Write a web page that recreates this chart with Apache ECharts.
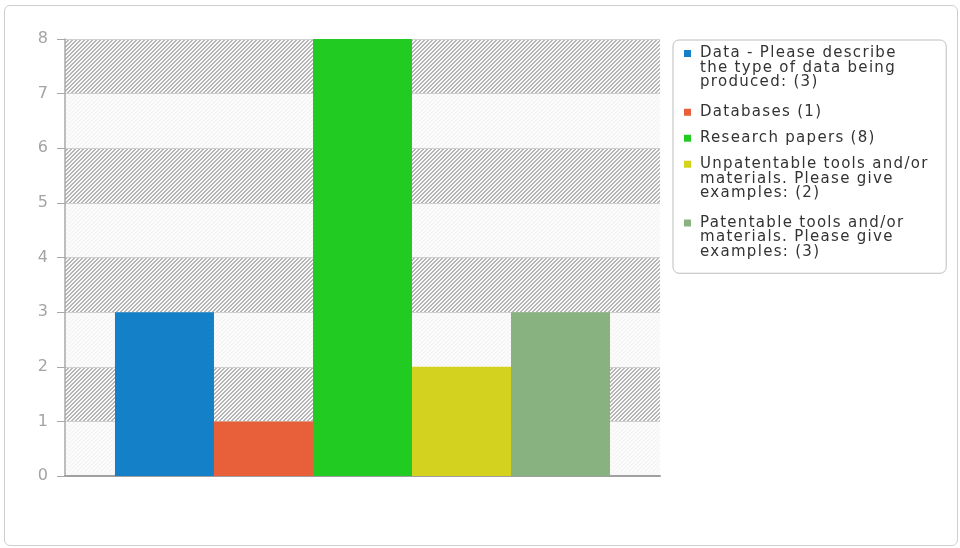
<!DOCTYPE html>
<html><head><meta charset="utf-8">
<script src="https://cdn.jsdelivr.net/npm/echarts@6/dist/echarts.min.js"></script>
<style>
html,body{margin:0;padding:0;background:#fff;}
#frame{position:absolute;left:4px;top:5px;width:954px;height:541px;border:1px solid #cfcfcf;border-radius:6px;box-sizing:border-box;}
#chart{position:absolute;left:0;top:0;width:960px;height:548px;}
</style></head>
<body>
<div id="frame"></div>
<div id="chart"></div>
<script>
const categories = ["Responses"];
const seriesNames = [
  "Data - Please describe\nthe type of data being\nproduced: (3)",
  "Databases (1)",
  "Research papers (8)",
  "Unpatentable tools and/or\nmaterials. Please give\nexamples: (2)",
  "Patentable tools and/or\nmaterials. Please give\nexamples: (3)"
];
const seriesValues = [3, 1, 8, 2, 3];
const seriesColors = ["#1380c8", "#e8603a", "#22cb22", "#d3d31f", "#88b27f"];
const yTicks = [0, 1, 2, 3, 4, 5, 6, 7, 8];

// wider letter spacing for left-aligned (legend) text, like the reference renderer
(function () {
  const proto = CanvasRenderingContext2D.prototype;
  const orig = proto.fillText;
  proto.fillText = function (t, x, y, w) {
    if ('letterSpacing' in this) {
      this.letterSpacing = (this.textAlign === 'left' || this.textAlign === 'start') ? '1.3px' : '0px';
    }
    return w === undefined ? orig.call(this, t, x, y) : orig.call(this, t, x, y, w);
  };
})();

function makePattern(bg, fg) {
  const c = document.createElement('canvas');
  c.width = 4; c.height = 4;
  const ctx = c.getContext('2d');
  ctx.fillStyle = bg; ctx.fillRect(0, 0, 4, 4);
  ctx.fillStyle = fg;
  for (let i = 0; i < 4; i++) {
    ctx.fillRect(3 - i, i, 1, 1);
    ctx.fillRect((4 - i) % 4, i, 1, 1);
  }
  return { image: c, repeat: 'repeat' };
}
const hatch = makePattern('#f9f9f9', '#b5b5b5');
const light = makePattern('#fcfcfc', '#f5f5f5');

const LH = 14.5;
const rich = {
  t: { fontSize: 15, color: '#333', lineHeight: LH, fontFamily: 'DejaVu Sans' },
  g: { width: 9, lineHeight: LH },
  sp: { width: 7, lineHeight: LH },
  e: { width: 1, height: 4, lineHeight: 4, fontSize: 2 }
};
seriesColors.forEach((c, i) => {
  rich['b' + i] = { width: 7, height: 7, backgroundColor: c, lineHeight: LH, verticalAlign: 'middle' };
});

const chart = echarts.init(document.getElementById('chart'), null, { renderer: 'canvas' });
chart.setOption({
  animation: false,
  backgroundColor: 'transparent',
  textStyle: { fontFamily: 'DejaVu Sans' },
  grid: { left: 65, right: 300, top: 39, bottom: 72 },
  legend: {
    orient: 'vertical',
    left: 673, top: 40,
    padding: [6, 50, 10, 5],
    backgroundColor: '#fff',
    borderColor: '#bdbdbd', borderWidth: 1, borderRadius: 6,
    itemWidth: 1, itemHeight: 1, itemGap: 11,
    icon: 'none',
    selectedMode: false,
    formatter: function (name) {
      const idx = seriesNames.indexOf(name);
      const lines = name.split('\n');
      let s = lines.map((l, i) =>
        (i === 0 ? '{b' + idx + '|}' : '{sp|}') + '{g|}{t|' + l + '}'
      ).join('\n');
      if (lines.length > 1) s += '\n{e|}';
      return s;
    },
    textStyle: { fontSize: 2, color: '#333', lineHeight: 4, fontFamily: 'DejaVu Sans', rich: rich },
    data: seriesNames
  },
  xAxis: {
    type: 'category', data: categories,
    axisLine: { lineStyle: { color: '#a0a0a0', width: 2 } },
    axisTick: { show: false }, axisLabel: { show: false }
  },
  yAxis: {
    type: 'value', min: yTicks[0], max: yTicks[yTicks.length - 1], interval: 1,
    axisLine: { show: true, lineStyle: { color: '#a8a8a8', width: 1.5 } },
    axisTick: { show: true, length: 8, lineStyle: { color: '#a8a8a8' } },
    axisLabel: { color: '#a4a4a4', fontSize: 16, margin: 17, fontFamily: 'DejaVu Sans' },
    splitLine: { show: true, lineStyle: { color: '#d0d0d0', width: 1 } },
    splitArea: { show: true, areaStyle: { color: [light, hatch] } }
  },
  series: seriesNames.map((n, i) => ({
    name: n, type: 'bar',
    data: [seriesValues[i]],
    barGap: '0%', barCategoryGap: '16.8%',
    itemStyle: { color: seriesColors[i] }
  }))
});
</script>
</body></html>
